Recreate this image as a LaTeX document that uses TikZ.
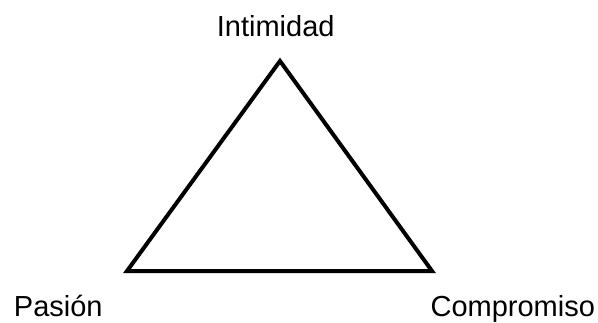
\documentclass[tikz,border=0pt]{standalone}
\usepackage{fontspec}
\setmainfont{Liberation Sans}
\usepackage{tikz}
\usetikzlibrary{positioning}

\begin{document}
\begin{tikzpicture}[x=1pt,y=1pt,
  label/.style={inner sep=0pt,anchor=base,font=\fontsize{29}{35}\selectfont}]
  \useasboundingbox (0,0) rectangle (598,322);
  \coordinate (top) at (280,261);
  \coordinate (left) at (127,51);
  \coordinate (right) at (432,51);
  \draw[line width=4pt] (top) -- (left) -- (right) -- cycle;
  \node[label] (intimidad) at (275.7,285.3) {Intimidad};
  \node[label] (pasion) at (58.3,5.3) {Pasión};
  \node[label] (compromiso) at (512.8,5.3) {Compromiso};
\end{tikzpicture}
\end{document}
